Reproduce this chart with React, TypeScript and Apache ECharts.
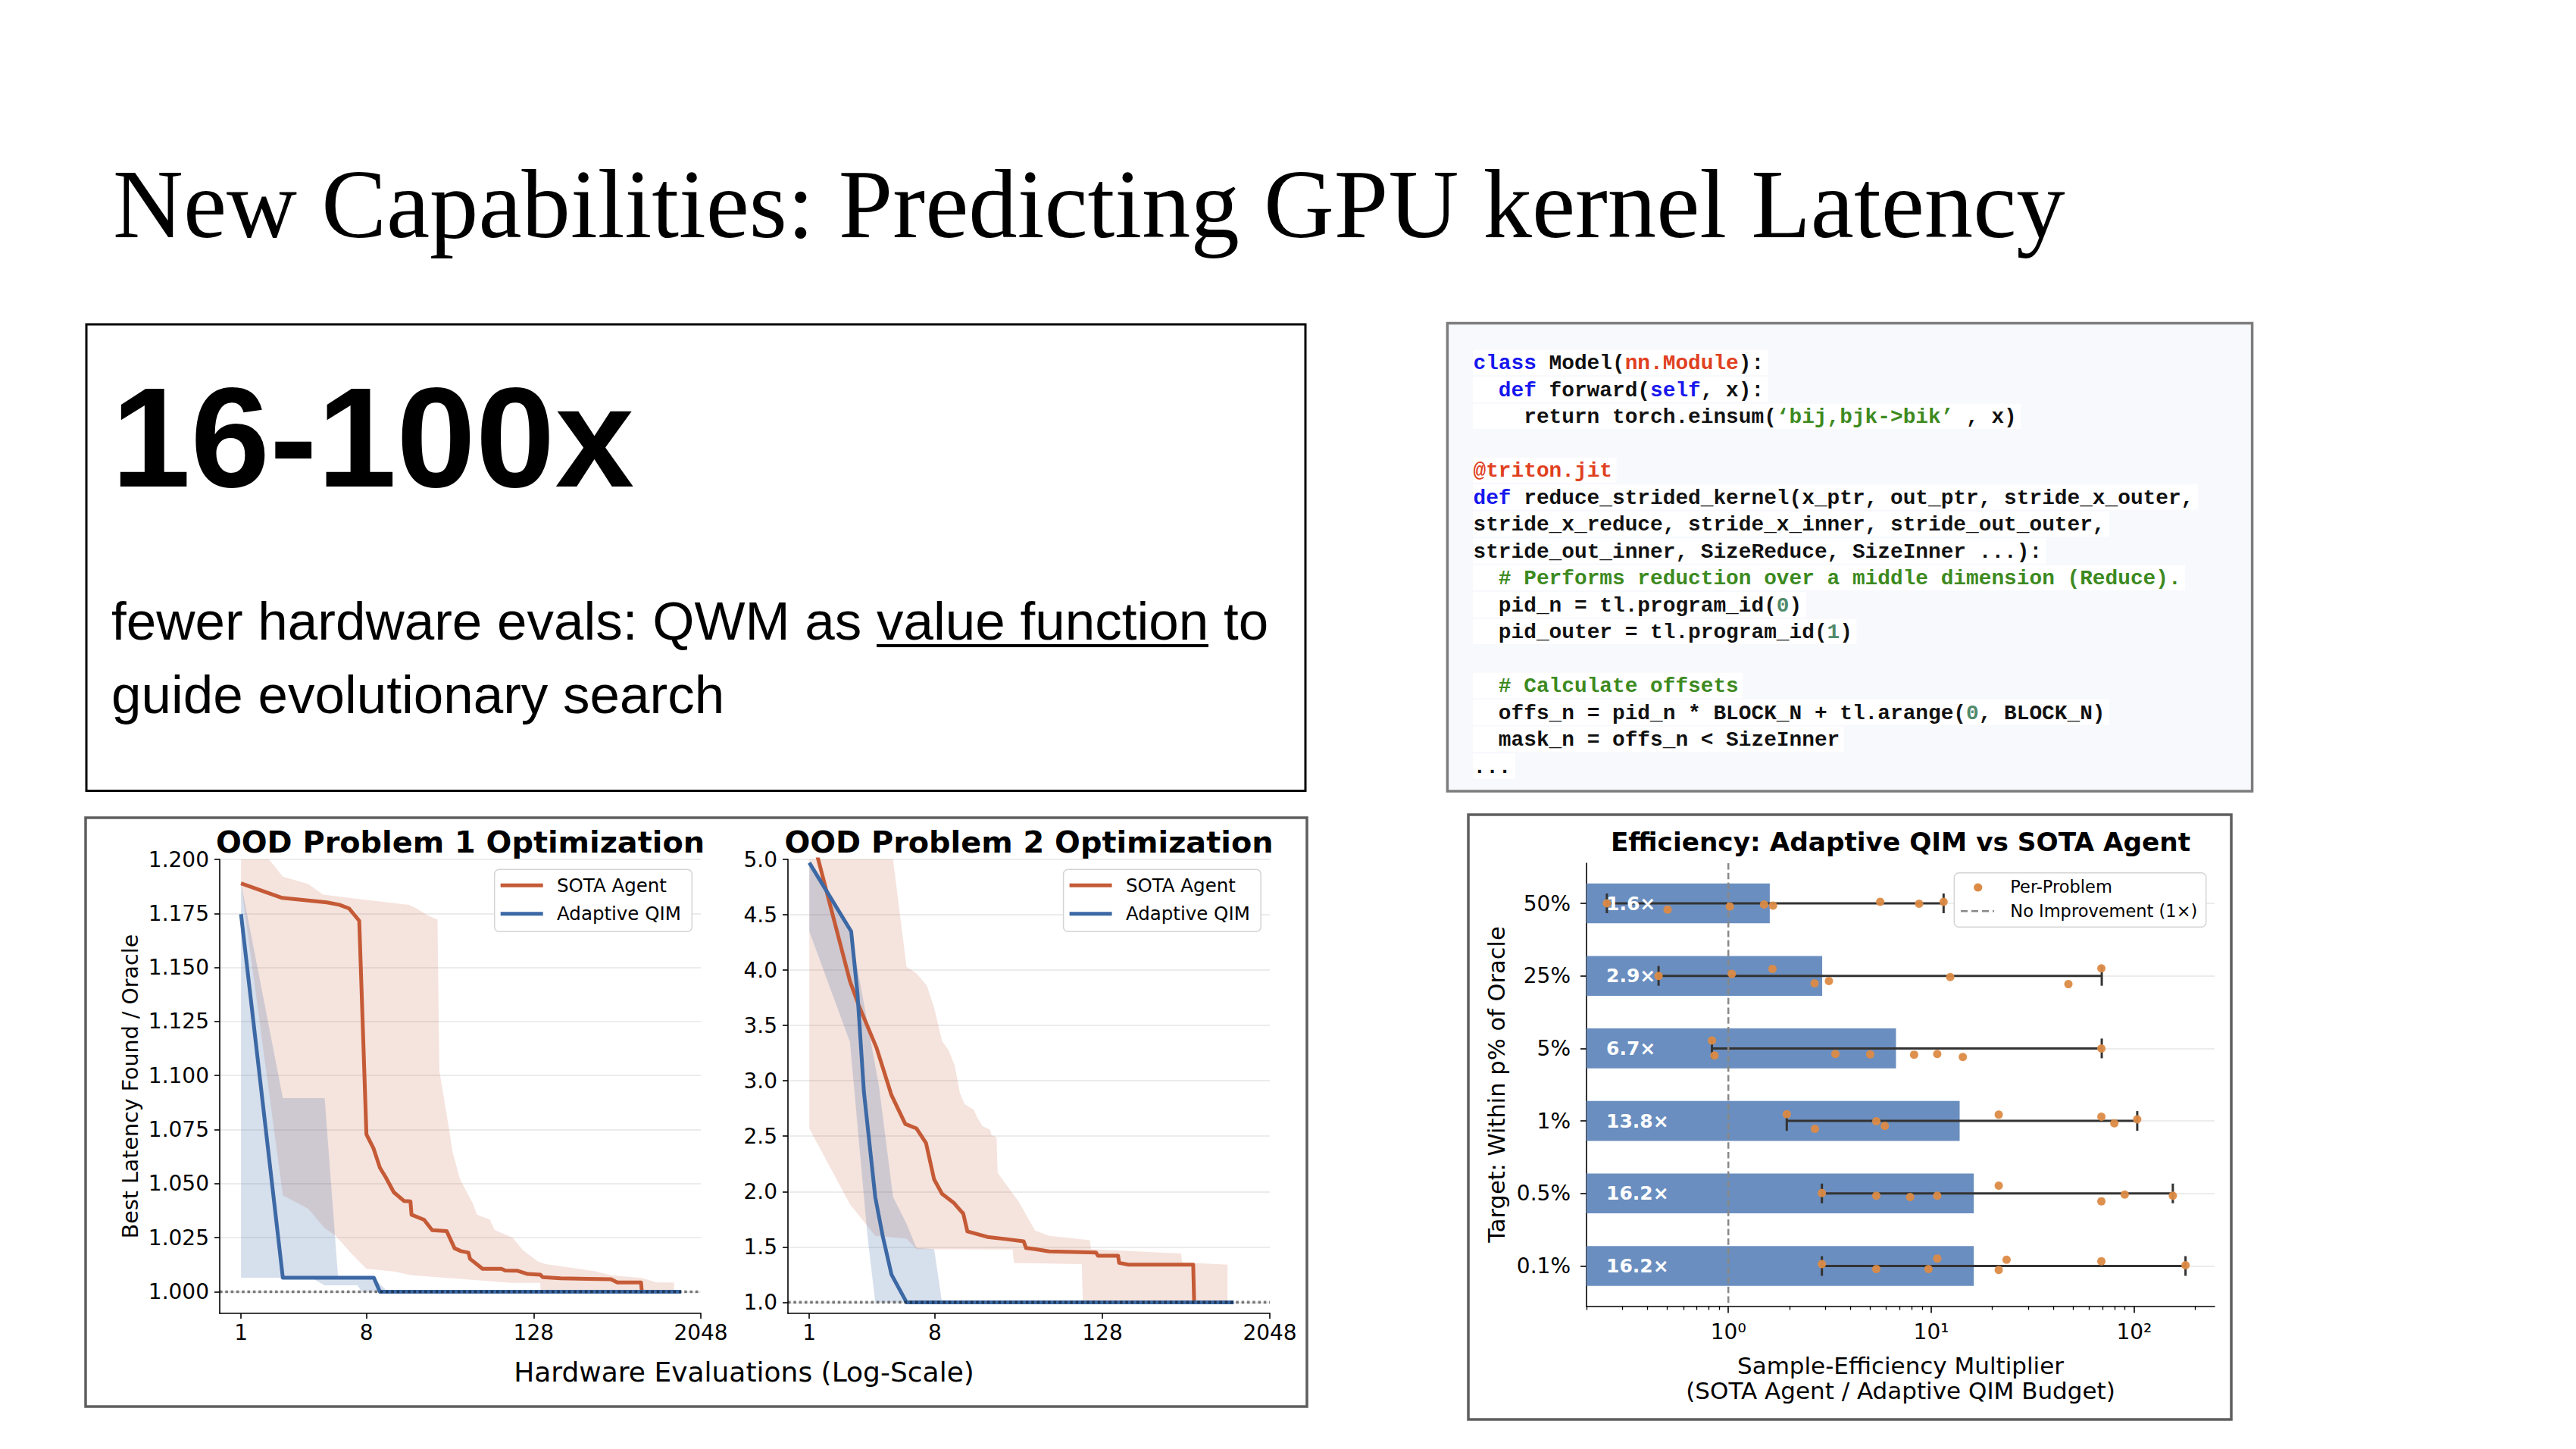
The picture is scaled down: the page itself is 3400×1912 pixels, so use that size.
import React, { useEffect, useRef } from "react";
import * as echarts from "echarts";

// ---------------- DATA ----------------
// Left panel: x = hardware evaluations (log2 axis), y = best latency / oracle
const evalTicks = [1, 8, 128, 2048];
const p1YTicks = [1.0, 1.025, 1.05, 1.075, 1.1, 1.125, 1.15, 1.175, 1.2];
const p2YTicks = [1.0, 1.5, 2.0, 2.5, 3.0, 3.5, 4.0, 4.5, 5.0];

const p1SotaLine = [
  [1, 1.1889], [1.98, 1.1822], [4.15, 1.1801], [5.1, 1.179], [6.0, 1.1773], [7.1, 1.1716],
  [8.0, 1.0728], [9.0, 1.0663], [10, 1.0574], [11, 1.053], [12.6, 1.046], [14.9, 1.042],
  [16.6, 1.0418], [16.9, 1.0356], [20.8, 1.0333], [23.8, 1.0285], [30.3, 1.028], [34.5, 1.0201],
  [38.3, 1.0188], [43.4, 1.0181], [44.6, 1.0152], [54.9, 1.0106], [75, 1.0106], [80, 1.0098],
  [98, 1.0097], [116, 1.0082], [143, 1.0079], [149, 1.0067], [200, 1.0062], [462, 1.0058],
  [513, 1.0043], [760, 1.0043], [770, 1.0], [1306, 1.0],
];
const p1QimLine = [[1, 1.1747], [2.0, 1.0065], [9.05, 1.0065], [10.0, 1.0], [1480, 1.0]];
const p1SotaUpper = [
  [1, 1.215], [1.59, 1.2], [2, 1.192], [3.05, 1.1886], [3.9, 1.1837], [7, 1.1817], [16.2, 1.179],
  [18.3, 1.1774], [22.4, 1.1739], [26, 1.1722], [26.8, 1.1024], [31.2, 1.0768], [33.4, 1.0645],
  [37.8, 1.052], [46.8, 1.0407], [50, 1.0357], [62, 1.0333], [67, 1.0286], [90, 1.0251],
  [107, 1.0193], [137, 1.014], [156, 1.0128], [360, 1.0094], [462, 1.0076], [764, 1.0064],
  [982, 1.0043], [1314, 1.0043],
];
const p1SotaLower = [
  [1, 1.189], [2, 1.0446], [3.05, 1.0384], [4, 1.0294], [4.8, 1.0259], [6.1, 1.0183], [8, 1.0106],
  [12.6, 1.0094], [17, 1.0076], [90, 1.0041], [143, 1.0041], [143.5, 1.0], [1314, 1.0],
];
const p1QimUpper = [[1, 1.189], [2, 1.0896], [4, 1.0896], [5, 1.0065], [9.1, 1.0065], [10.2, 1.003], [11.4, 1.0]];
const p1QimLower = [[1, 1.0065], [3.2, 1.0065], [4, 1.003], [6.9, 1.003], [7.4, 1.0], [11.4, 1.0]];

const p2SotaLine = [
  [1, 5.31], [1.96, 3.9], [2.27, 3.68], [3.04, 3.3], [3.9, 2.87], [4.9, 2.61], [5.9, 2.57],
  [6.9, 2.44], [7.9, 2.11], [9.0, 1.98], [10.9, 1.9], [12.8, 1.8], [13.7, 1.64], [19.1, 1.59],
  [26.2, 1.57], [34.8, 1.55], [36.2, 1.49], [42, 1.48], [53, 1.46], [115, 1.45], [119, 1.42],
  [166, 1.42], [169, 1.356], [197, 1.34], [576, 1.34], [585, 1.0], [1017, 1.0],
];
const p2QimLine = [[1, 4.97], [2.0, 4.35], [2.22, 3.79], [2.47, 2.9], [2.98, 1.95], [3.37, 1.6], [3.9, 1.25], [5.0, 1.0], [1127, 1.0]];
const p2SotaUpper = [
  [1, 5.6], [4.0, 5.0], [5.0, 4.03], [5.9, 3.97], [7.0, 3.86], [7.9, 3.66], [9.0, 3.36], [10, 3.28],
  [11.1, 3.14], [12.1, 2.89], [13.1, 2.79], [15.2, 2.74], [16.1, 2.67], [17.6, 2.59], [19.9, 2.56],
  [20.4, 2.51], [22.2, 2.49], [22.6, 2.17], [32, 1.91], [41.9, 1.65], [53, 1.6], [76.7, 1.58],
  [104, 1.56], [106, 1.48], [471, 1.44], [480, 1.36], [1017, 1.34],
];
const p2SotaLower = [
  [1, 2.57], [1.96, 1.885], [2.98, 1.6], [5.0, 1.574], [5.9, 1.48], [29, 1.476], [29.6, 1.356],
  [91, 1.345], [92.7, 1.0], [1017, 1.0],
];
const p2QimUpper = [[1, 4.97], [2, 4.33], [3.17, 2.95], [4, 1.95], [5, 1.71], [5.9, 1.49], [7.9, 1.48], [9.0, 1.0]];
const p2QimLower = [[1, 4.35], [1.96, 3.35], [2.62, 1.6], [2.98, 1.0]];

// Right panel: efficiency multipliers
const targets = ["50%", "25%", "5%", "1%", "0.5%", "0.1%"];
const medians = [1.6, 2.9, 6.7, 13.8, 16.2, 16.2];
const errLow = [0.252, 0.453, 0.83, 1.94, 2.89, 2.89];
const errHigh = [11.5, 69.2, 69.2, 103.5, 155, 179];
const perProblem = [
  [0.252, 0.502, 1.017, 1.5, 1.66, 5.6, 8.71, 11.5],
  [0.453, 1.04, 1.65, 2.66, 3.13, 12.4, 47.4, 68.9],
  [0.83, 0.854, 3.37, 5.0, 8.23, 10.7, 14.3, 68.9],
  [1.94, 2.67, 5.36, 5.9, 21.5, 68.9, 79.8, 103.5],
  [2.89, 5.36, 7.87, 10.7, 21.5, 68.9, 89.8, 155],
  [2.89, 5.36, 9.69, 10.7, 21.5, 23.5, 68.9, 179],
];
const perProblemJitter = [
  [0, 0.086, 0.043, 0.016, 0.032, -0.022, 0.005, -0.022],
  [0, -0.027, -0.097, 0.103, 0.07, 0.016, 0.114, -0.103],
  [-0.108, 0.097, 0.076, 0.081, 0.086, 0.076, 0.119, 0],
  [-0.092, 0.108, 0.005, 0.07, -0.086, -0.059, 0.032, -0.022],
  [-0.005, 0.032, 0.049, 0.032, -0.108, 0.108, 0.016, 0.032],
  [-0.027, 0.043, 0.043, -0.103, 0.054, -0.086, -0.065, -0.011],
];
const effMajorTicks = [1, 10, 100];
const effMajorLabels = ["10⁰", "10¹", "10²"];
const effMinorTicks = [0.2, 0.3, 0.4, 0.5, 0.6, 0.7, 0.8, 0.9, 2, 3, 4, 5, 6, 7, 8, 9, 20, 30, 40, 50, 60, 70, 80, 90, 200];

// Code listing
type Tok = [string, string];
const codeLines: Tok[][] = [
  [["class", "kw"], [" Model(", "tx"], ["nn.Module", "rd"], ["):", "tx"]],
  [["  ", "tx"], ["def", "kw"], [" forward(", "tx"], ["self", "kw"], [", x):", "tx"]],
  [["    return torch.einsum(", "tx"], ["‘bij,bjk->bik’", "gr"], [" , x)", "tx"]],
  [],
  [["@triton.jit", "rd"]],
  [["def", "kw"], [" reduce_strided_kernel(x_ptr, out_ptr, stride_x_outer,", "tx"]],
  [["stride_x_reduce, stride_x_inner, stride_out_outer,", "tx"]],
  [["stride_out_inner, SizeReduce, SizeInner ...):", "tx"]],
  [["  ", "tx"], ["# Performs reduction over a middle dimension (Reduce).", "gr"]],
  [["  pid_n = tl.program_id(", "tx"], ["0", "nm"], [")", "tx"]],
  [["  pid_outer = tl.program_id(", "tx"], ["1", "nm"], [")", "tx"]],
  [],
  [["  ", "tx"], ["# Calculate offsets", "gr"]],
  [["  offs_n = pid_n * BLOCK_N + tl.arange(", "tx"], ["0", "nm"], [", BLOCK_N)", "tx"]],
  [["  mask_n = offs_n < SizeInner", "tx"]],
  [["...", "tx"]],
];

// ---------------- STYLE ----------------
const W = 3400;
const H = 1912;
const FONT = "DejaVu Sans";
const ORANGE = "#c55a36";
const BLUE = "#3c69a5";
const BAR = "#6a8ebf";
const DOT = "#dc8b46";
const codeColors: Record<string, string> = { kw: "#1717ee", rd: "#e0401e", gr: "#3d8a1f", nm: "#4f8a6b", tx: "#111111" };

const X12MIN = -0.51;
const X12MAX = 11;
const X3MIN = Math.log10(0.2);
const X3MAX = Math.log10(249);

function rgba(hex: string, a: number) {
  const n = parseInt(hex.slice(1), 16);
  return `rgba(${(n >> 16) & 255},${(n >> 8) & 255},${n & 255},${a})`;
}

function T(x: number, y: number, text: string, size: number, o: any = {}) {
  return {
    type: "text",
    x,
    y,
    z: 100,
    silent: true,
    rotation: o.rot || 0,
    style: {
      text,
      fontSize: size,
      fontFamily: o.family || FONT,
      fontWeight: o.weight || "normal",
      fill: o.fill || "#000",
      textAlign: o.align || "left",
      align: o.align || "left",
      textVerticalAlign: "middle",
      verticalAlign: "middle",
    },
  };
}

const toL2 = (arr: number[][]) => arr.map(([x, y]) => [Math.log2(x), y]);

function bandSeries(idx: number, upper: number[][], lower: number[][], color: string, a: number, z: number) {
  const poly = [...toL2(upper), ...toL2(lower).reverse()];
  return {
    type: "custom",
    xAxisIndex: idx,
    yAxisIndex: idx,
    clip: true,
    silent: true,
    z,
    data: [poly[poly.length - 1]],
    renderItem: (_p: any, api: any) => ({
      type: "polygon",
      shape: { points: poly.map((p) => api.coord(p)) },
      style: { fill: rgba(color, a), stroke: null, lineWidth: 0 },
    }),
  };
}

function lineSeries(idx: number, name: string, data: number[][], color: string, z: number) {
  return {
    type: "line",
    name,
    xAxisIndex: idx,
    yAxisIndex: idx,
    data: toL2(data),
    showSymbol: false,
    symbol: "none",
    silent: true,
    z,
    lineStyle: { color, width: 5, join: "round" },
  };
}

function oracleSeries(idx: number) {
  return {
    type: "line",
    xAxisIndex: idx,
    yAxisIndex: idx,
    data: [[X12MIN, 1], [X12MAX, 1]],
    showSymbol: false,
    symbol: "none",
    silent: true,
    z: 6,
    lineStyle: { color: "rgba(0,0,0,0.5)", width: 3.6, type: [3.6, 3.7], cap: "butt" },
  };
}

const AX_TEXT = { fontFamily: FONT, fontSize: 28, color: "#000" };
const AX_LINE = { show: true, onZero: false, lineStyle: { color: "#000", width: 1.6 } };
const SPLIT = { show: true, lineStyle: { color: "#e6e6e6", width: 1.5 } };

function leftXAxis(gridIndex: number) {
  const vals = evalTicks.map((v) => Math.log2(v));
  return {
    gridIndex,
    type: "value",
    position: "bottom",
    min: X12MIN,
    max: X12MAX,
    axisLine: AX_LINE,
    axisTick: { show: true, length: 7, customValues: vals, lineStyle: { color: "#000", width: 1.6 } },
    axisLabel: { ...AX_TEXT, margin: 11, customValues: vals, formatter: (v: number) => String(Math.round(Math.pow(2, v))) },
    splitLine: { show: false },
  };
}

function leftYAxis(gridIndex: number, min: number, max: number, ticks: number[], dec: number) {
  return {
    gridIndex,
    type: "value",
    position: "left",
    min,
    max,
    axisLine: AX_LINE,
    axisTick: { show: true, length: 7, customValues: ticks, lineStyle: { color: "#000", width: 1.6 } },
    axisLabel: { ...AX_TEXT, margin: 14, customValues: ticks, formatter: (v: number) => v.toFixed(dec) },
    splitLine: SPLIT,
  };
}

function legendBox(x0: number) {
  return {
    type: "group",
    z: 100,
    silent: true,
    children: [
      { type: "rect", z: 100, shape: { x: x0, y: 1147.3, width: 260.6, height: 82, r: 6 }, style: { fill: "#fff", stroke: "#d4d4d4", lineWidth: 1.5 } },
      { type: "line", z: 101, shape: { x1: x0 + 8, y1: 1168.3, x2: x0 + 64, y2: 1168.3 }, style: { stroke: ORANGE, lineWidth: 5 } },
      { type: "line", z: 101, shape: { x1: x0 + 8, y1: 1205.7, x2: x0 + 64, y2: 1205.7 }, style: { stroke: BLUE, lineWidth: 5 } },
      T(x0 + 82.3, 1168.8, "SOTA Agent", 24.5),
      T(x0 + 82.3, 1205.5, "Adaptive QIM", 24.5),
    ],
  };
}

function buildCode() {
  const els: any[] = [];
  const CX = 1944.5;
  const Y0 = 487.3;
  const LH = 35.5;
  const FS = 27.8;
  const CW = FS * 0.6;
  codeLines.forEach((toks, i) => {
    const base = Y0 + i * LH;
    const len = toks.reduce((s, t) => s + t[0].length, 0);
    if (len > 0) {
      els.push({ type: "rect", z: 50, silent: true, shape: { x: CX - 0.5, y: base - 25.6, width: len * CW + 6, height: 33.4 }, style: { fill: "#ffffff" } });
    }
    let col = 0;
    toks.forEach(([s, c]) => {
      const lead = s.length - s.replace(/^ +/, "").length;
      const body = s.slice(lead);
      if (body.length) {
        els.push(T(CX + (col + lead) * CW, base - 7.4, body, FS, { family: "Liberation Mono", weight: "bold", fill: codeColors[c] }));
      }
      col += s.length;
    });
  });
  return els;
}

function buildOption() {
  const rightSeries: any[] = [];
  const barData = medians.map((m, i) => [Math.log10(m), i, m]);
  rightSeries.push({
    type: "custom",
    xAxisIndex: 2,
    yAxisIndex: 2,
    silent: true,
    z: 2,
    encode: { x: 0, y: 1 },
    data: barData,
    renderItem: (_p: any, api: any) => {
      const i = api.value(1);
      const s = api.coord([X3MIN, i]);
      const e = api.coord([api.value(0), i]);
      const h = api.size([0, 0.55])[1];
      return { type: "rect", shape: { x: s[0], y: s[1] - h / 2, width: e[0] - s[0], height: h }, style: { fill: BAR } };
    },
  });
  rightSeries.push({
    type: "custom",
    xAxisIndex: 2,
    yAxisIndex: 2,
    silent: true,
    z: 3,
    encode: { x: [0, 1], y: 2 },
    data: errLow.map((lo, i) => [Math.log10(lo), Math.log10(errHigh[i]), i]),
    renderItem: (_p: any, api: any) => {
      const i = api.value(2);
      const a = api.coord([api.value(0), i]);
      const b = api.coord([api.value(1), i]);
      const st = { stroke: "#333", lineWidth: 3 };
      return {
        type: "group",
        children: [
          { type: "line", shape: { x1: a[0], y1: a[1], x2: b[0], y2: b[1] }, style: st },
          { type: "line", shape: { x1: a[0], y1: a[1] - 13, x2: a[0], y2: a[1] + 13 }, style: st },
          { type: "line", shape: { x1: b[0], y1: b[1] - 13, x2: b[0], y2: b[1] + 13 }, style: st },
        ],
      };
    },
  });
  const pts: number[][] = [];
  perProblem.forEach((row, i) => row.forEach((v, k) => pts.push([Math.log10(v), i + perProblemJitter[i][k]])));
  rightSeries.push({
    type: "scatter",
    name: "Per-Problem",
    xAxisIndex: 2,
    yAxisIndex: 2,
    silent: true,
    z: 4,
    symbolSize: 11,
    itemStyle: { color: DOT, opacity: 0.95 },
    data: pts,
  });
  rightSeries.push({
    type: "line",
    name: "No Improvement (1×)",
    xAxisIndex: 2,
    yAxisIndex: 2,
    silent: true,
    z: 3,
    showSymbol: false,
    symbol: "none",
    data: [[0, -0.554], [0, 5.554]],
    lineStyle: { color: "#888", width: 2.5, type: [8.5, 4.2] },
  });
  rightSeries.push({
    type: "custom",
    xAxisIndex: 2,
    yAxisIndex: 2,
    silent: true,
    z: 5,
    encode: { x: 0, y: 1 },
    data: barData,
    renderItem: (_p: any, api: any) => {
      const i = api.value(1);
      const s = api.coord([X3MIN, i]);
      return {
        type: "text",
        x: s[0] + 26,
        y: s[1],
        style: {
          text: api.value(2).toFixed(1) + "×",
          fill: "#fff",
          fontFamily: FONT,
          fontWeight: "bold",
          fontSize: 25,
          textAlign: "left",
          align: "left",
          textVerticalAlign: "middle",
          verticalAlign: "middle",
        },
      };
    },
  });

  const graphicEls: any[] = [
    // slide title
    T(149, 269.8, "New Capabilities: Predicting GPU kernel Latency", 128.7, { family: "Liberation Serif" }),
    // box 1
    { type: "rect", z: 10, silent: true, shape: { x: 114, y: 428, width: 1609, height: 615.5 }, style: { fill: "none", stroke: "#000", lineWidth: 3 } },
    T(147, 576.8, "16-100x", 188, { family: "Liberation Sans", weight: "bold" }),
    T(147, 819.4, "fewer hardware evals: QWM as value function to", 71, { family: "Liberation Sans" }),
    T(147, 916.4, "guide evolutionary search", 71, { family: "Liberation Sans" }),
    { type: "line", z: 100, silent: true, shape: { x1: 1157, y1: 852, x2: 1595, y2: 852 }, style: { stroke: "#000", lineWidth: 4 } },
    // code box
    { type: "rect", z: 10, silent: true, shape: { x: 1910.4, y: 426.6, width: 1062.2, height: 617.4 }, style: { fill: "#f8f9fd", stroke: "#7d7d7d", lineWidth: 3.5 } },
    ...buildCode(),
    // panels
    { type: "rect", z: 10, silent: true, shape: { x: 113, y: 1079, width: 1612, height: 777 }, style: { fill: "none", stroke: "#5e5e5e", lineWidth: 3.5 } },
    { type: "rect", z: 10, silent: true, shape: { x: 1938, y: 1075, width: 1007, height: 798 }, style: { fill: "none", stroke: "#5e5e5e", lineWidth: 3.5 } },
    // left chart texts
    T(607.5, 1110.5, "OOD Problem 1 Optimization", 39.8, { weight: "bold", align: "center" }),
    T(1358, 1110.5, "OOD Problem 2 Optimization", 39.8, { weight: "bold", align: "center" }),
    T(172, 1433.5, "Best Latency Found / Oracle", 28.5, { align: "center", rot: Math.PI / 2 }),
    T(982, 1810.5, "Hardware Evaluations (Log-Scale)", 36, { align: "center" }),
    legendBox(652.7),
    legendBox(1403.6),
    // right chart texts
    T(2508.5, 1110.6, "Efficiency: Adaptive QIM vs SOTA Agent", 34.3, { weight: "bold", align: "center" }),
    T(1975, 1431, "Target: Within p% of Oracle", 30.5, { align: "center", rot: Math.PI / 2 }),
    T(2508.5, 1801.6, "Sample-Efficiency Multiplier", 31, { align: "center" }),
    T(2508.5, 1834.6, "(SOTA Agent / Adaptive QIM Budget)", 31, { align: "center" }),
    {
      type: "group",
      z: 100,
      silent: true,
      children: [
        { type: "rect", z: 100, shape: { x: 2579.3, y: 1151.7, width: 332.4, height: 71.6, r: 6 }, style: { fill: "#fff", stroke: "#d4d4d4", lineWidth: 1.5 } },
        { type: "circle", z: 101, shape: { cx: 2610.7, cy: 1171, r: 5.6 }, style: { fill: DOT } },
        { type: "line", z: 101, shape: { x1: 2588, y1: 1202.3, x2: 2632, y2: 1202.3 }, style: { stroke: "#888", lineWidth: 2.5, lineDash: [9, 5] } },
        T(2653.3, 1169.5, "Per-Problem", 22.5),
        T(2653.3, 1202.2, "No Improvement (1×)", 22.5),
      ],
    },
  ];

  return {
    animation: false,
    backgroundColor: "#fff",
    grid: [
      { left: 290, top: 1134, width: 635, height: 599, outerBoundsMode: "none" },
      { left: 1040, top: 1134, width: 636, height: 599, outerBoundsMode: "none" },
      { left: 2094, top: 1139, width: 829, height: 584.5, outerBoundsMode: "none" },
    ],
    xAxis: [
      leftXAxis(0),
      leftXAxis(1),
      {
        gridIndex: 2,
        type: "value",
        position: "bottom",
        min: X3MIN,
        max: X3MAX,
        axisLine: AX_LINE,
        axisTick: { show: true, length: 9, customValues: effMajorTicks.map((v) => Math.log10(v)), lineStyle: { color: "#000", width: 1.6 } },
        axisLabel: {
          ...AX_TEXT,
          margin: 20,
          customValues: effMajorTicks.map((v) => Math.log10(v)),
          formatter: (v: number) => effMajorLabels[Math.round(v)] ?? "",
        },
        splitLine: { show: false },
      },
      {
        gridIndex: 2,
        type: "value",
        position: "bottom",
        min: X3MIN,
        max: X3MAX,
        axisLine: { show: false, onZero: false },
        axisTick: { show: true, length: 5, customValues: effMinorTicks.map((v) => Math.log10(v)), lineStyle: { color: "#000", width: 1.3 } },
        axisLabel: { show: false },
        splitLine: { show: false },
      },
    ],
    yAxis: [
      leftYAxis(0, 0.99, 1.2, p1YTicks, 3),
      leftYAxis(1, 0.9, 5.0, p2YTicks, 1),
      {
        gridIndex: 2,
        type: "value",
        position: "left",
        inverse: true,
        min: -0.554,
        max: 5.554,
        axisLine: AX_LINE,
        axisTick: { show: true, length: 8, customValues: targets.map((_, i) => i), lineStyle: { color: "#000", width: 1.6 } },
        axisLabel: { ...AX_TEXT, margin: 21, customValues: targets.map((_, i) => i), formatter: (v: number) => targets[Math.round(v)] ?? "" },
        splitLine: SPLIT,
      },
    ],
    series: [
      bandSeries(0, p1SotaUpper, p1SotaLower, ORANGE, 0.17, 1),
      bandSeries(0, p1QimUpper, p1QimLower, BLUE, 0.21, 2),
      lineSeries(0, "SOTA Agent", p1SotaLine, ORANGE, 3),
      lineSeries(0, "Adaptive QIM", p1QimLine, BLUE, 4),
      oracleSeries(0),
      bandSeries(1, p2SotaUpper, p2SotaLower, ORANGE, 0.17, 1),
      bandSeries(1, p2QimUpper, p2QimLower, BLUE, 0.21, 2),
      lineSeries(1, "SOTA Agent", p2SotaLine, ORANGE, 3),
      lineSeries(1, "Adaptive QIM", p2QimLine, BLUE, 4),
      oracleSeries(1),
      ...rightSeries,
    ],
    graphic: { elements: graphicEls },
  };
}

export default function App() {
  const ref = useRef<HTMLDivElement>(null);
  useEffect(() => {
    if (!ref.current) return;
    const chart = echarts.init(ref.current, null, { renderer: "svg", width: W, height: H });
    chart.setOption(buildOption() as any);
    return () => chart.dispose();
  }, []);
  return <div ref={ref} style={{ position: "absolute", left: 0, top: 0, width: W, height: H, background: "#fff" }} />;
}
